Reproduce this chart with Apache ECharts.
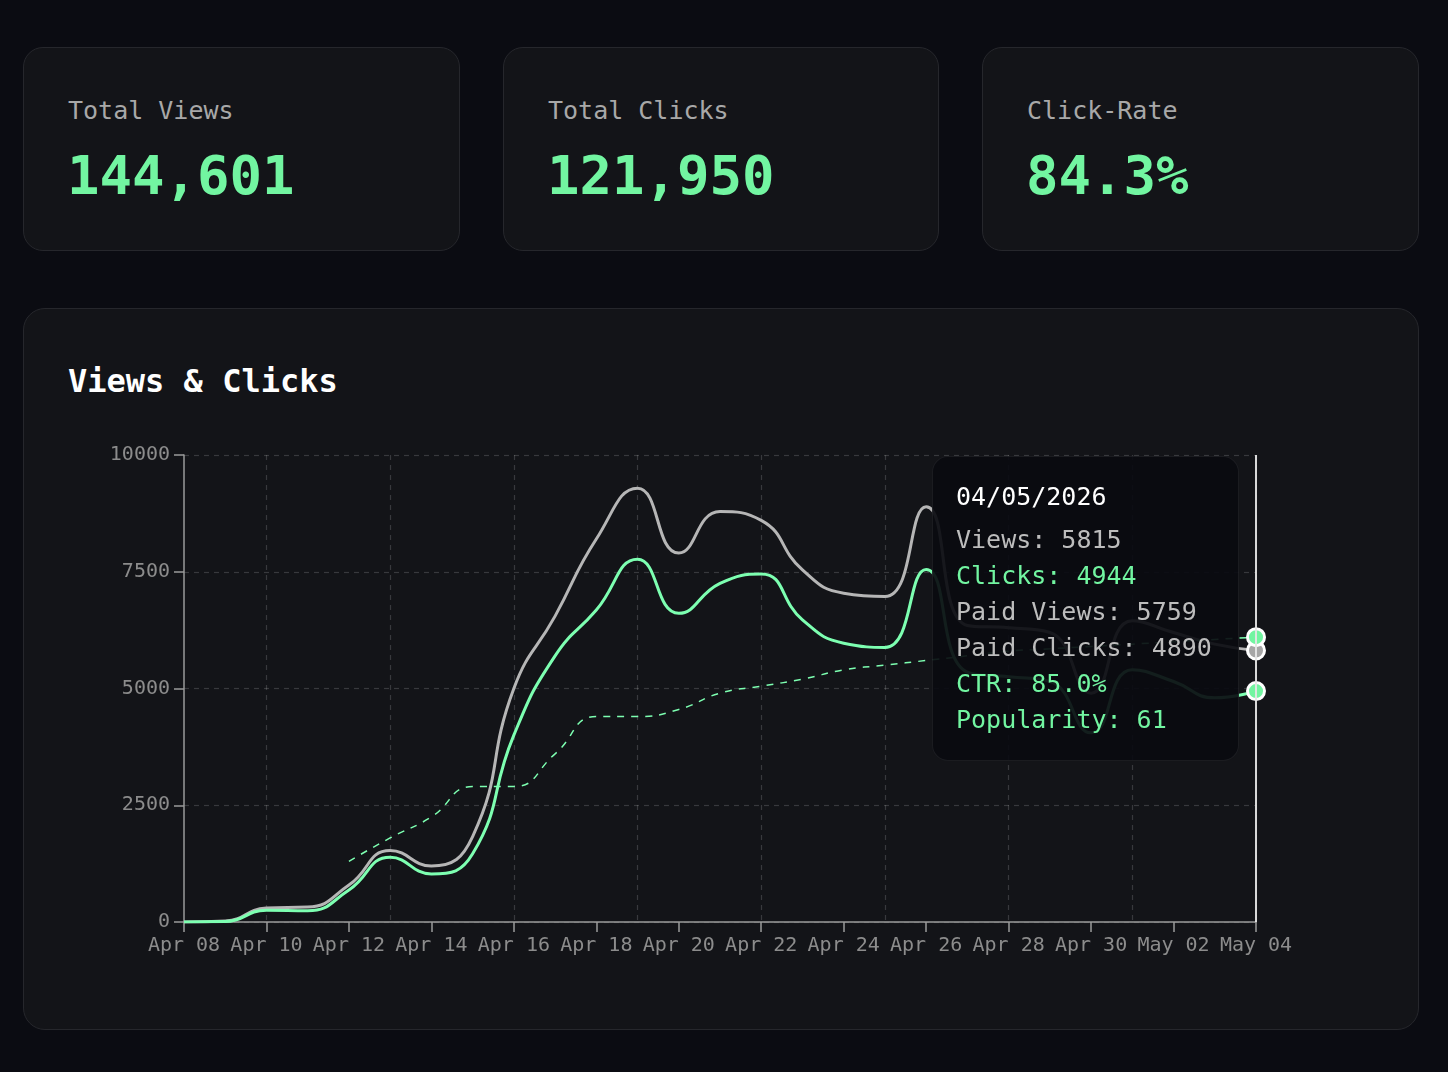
<!DOCTYPE html>
<html>
<head>
<meta charset="utf-8">
<script src="https://cdn.jsdelivr.net/npm/echarts@6/dist/echarts.min.js"></script>
<style>
html,body{margin:0;padding:0;background:#0b0c12;width:1448px;height:1072px;overflow:hidden;font-family:"DejaVu Sans Mono",monospace;}
.card{position:absolute;background:#131418;border:1px solid #26272c;border-radius:20px;box-sizing:border-box;}
.label{position:absolute;left:44px;top:50px;color:#a8a8a8;font-size:25px;line-height:25px;white-space:nowrap;}
.value{position:absolute;left:43px;top:101px;color:#72f5a1;font-size:54px;line-height:54px;font-weight:bold;white-space:nowrap;}
.title{position:absolute;left:44px;top:56px;color:#ffffff;font-size:32px;line-height:32px;font-weight:bold;white-space:nowrap;}
#chart{position:absolute;left:23px;top:308px;width:1396px;height:722px;}
</style>
</head>
<body>
<div class="card" style="left:23px;top:47px;width:437px;height:204px;">
  <div class="label">Total Views</div><div class="value" id="v1"></div>
</div>
<div class="card" style="left:503px;top:47px;width:436px;height:204px;">
  <div class="label">Total Clicks</div><div class="value" id="v2"></div>
</div>
<div class="card" style="left:982px;top:47px;width:437px;height:204px;">
  <div class="label">Click-Rate</div><div class="value" id="v3"></div>
</div>
<div class="card" style="left:23px;top:308px;width:1396px;height:722px;border-radius:22px;">
  <div class="title">Views &amp; Clicks</div>
</div>
<div id="chart"></div>
<script>
// ---- summary values ----
const totalViews = 144601;
const totalClicks = 121950;
const clickRate = 84.3;

// ---- daily data (Apr 08 .. May 04, 2026), tooltip dates shown as DD/MM/YYYY ----
const dates = ['08/04/2026','09/04/2026','10/04/2026','11/04/2026','12/04/2026','13/04/2026','14/04/2026',
  '15/04/2026','16/04/2026','17/04/2026','18/04/2026','19/04/2026','20/04/2026','21/04/2026','22/04/2026',
  '23/04/2026','24/04/2026','25/04/2026','26/04/2026','27/04/2026','28/04/2026','29/04/2026','30/04/2026',
  '01/05/2026','02/05/2026','03/05/2026','04/05/2026'];
const views = [0, 20, 300, 320, 790, 1530, 1200, 1830, 5000, 6550, 8200, 9290, 7900, 8790, 8600,
  7540, 7040, 6970, 8890, 6350, 6300, 6200, 4900, 6450, 6200, 5950, 5815];
const clicks = [0, 10, 250, 240, 685, 1385, 1030, 1460, 4000, 5700, 6680, 7770, 6610, 7250, 7450,
  6470, 5970, 5880, 7550, 5350, 5250, 5150, 4050, 5400, 5150, 4800, 4944];
const popularity = [null, null, null, null, 13, 18, 22.5, 29, 29, 36, 44, 44, 45.5, 49, 50.5,
  52, 54, 55, 56, 57, 58, 58.5, 59, 59.5, 60, 60.5, 61];
// paid figures are only visible for the hovered day (last index)
const paidViews = {26: 5759};
const paidClicks = {26: 4890};

// ---- tick labels ----
const xTickLabels = ['Apr 08','Apr 10','Apr 12','Apr 14','Apr 16','Apr 18','Apr 20','Apr 22',
  'Apr 24','Apr 26','Apr 28','Apr 30','May 02','May 04'];
const yTicks = [0, 2500, 5000, 7500, 10000];

document.getElementById('v1').textContent = totalViews.toLocaleString('en-US');
document.getElementById('v2').textContent = totalClicks.toLocaleString('en-US');
document.getElementById('v3').textContent = clickRate.toFixed(1) + '%';

const GREEN = '#72f5a1';
const GRAY = '#a6a6a6';
const AXIS = '#9a9a9a';
const LABEL = '#8c8c8c';
const GRID = 'rgba(255,255,255,0.16)';
const FONT = '"DejaVu Sans Mono", monospace';
const lastDay = dates.length - 1;

const chart = echarts.init(document.getElementById('chart'), null, {renderer: 'canvas'});

const pts = arr => arr.map((v, i) => [i, v]);

chart.setOption({
  animation: false,
  backgroundColor: 'transparent',
  grid: {left: 161, top: 147, width: 1072, height: 467, containLabel: false},
  xAxis: [{
    type: 'value', min: 0, max: lastDay, interval: 2,
    axisLine: {show: true, lineStyle: {color: AXIS, width: 1.5}},
    axisTick: {show: true, length: 10, lineStyle: {color: AXIS, width: 1.5}},
    axisLabel: {color: LABEL, fontSize: 20, fontFamily: FONT, margin: 14,
      formatter: v => xTickLabels[Math.round(v / 2)] || ''},
    splitLine: {show: false}
  }, {
    // helper category axis (one slot per day) carrying the 3-day dashed vertical grid
    type: 'category', data: dates, boundaryGap: false, position: 'bottom',
    axisLine: {show: false}, axisTick: {show: false}, axisLabel: {show: false},
    splitLine: {show: true, interval: i => i % 3 === 2,
      lineStyle: {color: GRID, type: [5, 5], width: 1.2}}
  }],
  yAxis: [{
    type: 'value', min: yTicks[0], max: yTicks[yTicks.length - 1], interval: 2500,
    axisLine: {show: true, lineStyle: {color: AXIS, width: 1.5}},
    axisTick: {show: true, length: 10, lineStyle: {color: AXIS, width: 1.5}},
    axisLabel: {color: LABEL, fontSize: 20, fontFamily: FONT, margin: 14, formatter: v => String(v)},
    splitLine: {show: true, lineStyle: {color: GRID, type: [5, 5], width: 1.2}}
  }, {
    type: 'value', min: 0, max: 100, show: false
  }],
  tooltip: {
    trigger: 'axis',
    triggerOn: 'none',
    alwaysShowContent: true,
    transitionDuration: 0,
    position: [909, 148],
    backgroundColor: 'rgba(10,11,16,0.92)',
    borderColor: 'rgba(255,255,255,0.07)',
    borderWidth: 1,
    padding: [22, 23],
    extraCssText: 'width:307px;box-sizing:border-box;border-radius:16px;box-shadow:none;',
    axisPointer: {type: 'line', lineStyle: {color: '#e6e6e6', width: 1.5, type: 'solid'}},
    formatter: params => {
      const i = params[0].dataIndex;
      const row = (t, c, extra) => '<div style="font-size:25px;line-height:36px;color:' + c + ';white-space:nowrap;' + (extra || '') + '">' + t + '</div>';
      const ctr = (clicks[i] / views[i] * 100).toFixed(1);
      return '<div style="font-family:' + FONT.replace(/"/g, "'") + '">' +
        row(dates[i], '#ffffff', 'margin-bottom:7px;') +
        row('Views: ' + views[i], '#bdbdbd') +
        row('Clicks: ' + clicks[i], GREEN) +
        row('Paid Views: ' + paidViews[i], '#bdbdbd') +
        row('Paid Clicks: ' + paidClicks[i], '#bdbdbd') +
        row('CTR: ' + ctr + '%', GREEN) +
        row('Popularity: ' + popularity[i], GREEN) +
        '</div>';
    }
  },
  series: [{
    name: 'Views', type: 'line', xAxisIndex: 0, yAxisIndex: 0,
    data: pts(views), smooth: 0.5,
    showSymbol: false, symbol: 'circle', symbolSize: 17,
    lineStyle: {color: GRAY, width: 3},
    itemStyle: {color: GRAY, borderColor: '#ffffff', borderWidth: 3},
    emphasis: {scale: false, lineStyle: {width: 3}}
  }, {
    name: 'Clicks', type: 'line', xAxisIndex: 0, yAxisIndex: 0,
    data: pts(clicks), smooth: 0.5,
    showSymbol: false, symbol: 'circle', symbolSize: 17,
    lineStyle: {color: GREEN, width: 3},
    itemStyle: {color: GREEN, borderColor: '#ffffff', borderWidth: 3},
    emphasis: {scale: false, lineStyle: {width: 3}}
  }, {
    name: 'Popularity', type: 'line', xAxisIndex: 0, yAxisIndex: 1,
    data: pts(popularity), smooth: 0.5, connectNulls: false,
    showSymbol: false, symbol: 'circle', symbolSize: 17,
    lineStyle: {color: GREEN, width: 1.5, type: [7, 7]},
    itemStyle: {color: GREEN, borderColor: '#ffffff', borderWidth: 3},
    emphasis: {scale: false, lineStyle: {width: 1.5}}
  }]
});

chart.dispatchAction({type: 'showTip', seriesIndex: 0, dataIndex: lastDay});
</script>
</body>
</html>
